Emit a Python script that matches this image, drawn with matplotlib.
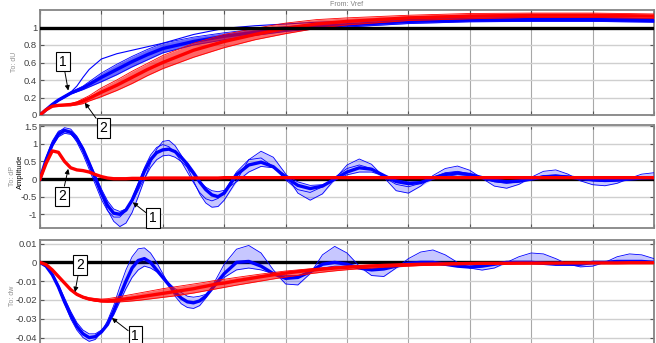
import matplotlib.pyplot as plt
import numpy as np

plt.rcParams['font.family'] = ['Liberation Sans', 'DejaVu Sans']

# time axis in grid divisions (10 divisions across the plot)
t_top = [0, 0.1, 0.2, 0.3, 0.4, 0.5, 0.6, 0.7, 0.8, 1.0, 1.25, 1.5, 1.75, 2.0,
         2.5, 3.0, 3.5, 4.0, 4.5, 5.0, 6.0, 7.0, 8.0, 9.0, 10.0]

t_osc = [0, 0.1, 0.2, 0.3, 0.4, 0.5, 0.6, 0.7, 0.8, 0.9,
         1.0, 1.1, 1.2, 1.3, 1.4, 1.5, 1.6, 1.7, 1.8, 1.9,
         2.0, 2.1, 2.2, 2.3, 2.4, 2.5, 2.6, 2.7, 2.8, 2.9,
         3.0,
         3.2, 3.4, 3.6, 3.8, 4.0, 4.2, 4.4, 4.6, 4.8, 5.0,
         5.2, 5.4, 5.6, 5.8, 6.0, 6.2, 6.4, 6.6, 6.8, 7.0,
         7.2, 7.4, 7.6, 7.8, 8.0, 8.2, 8.4, 8.6, 8.8, 9.0,
         9.2, 9.4, 9.6, 9.8, 10.0]

# --- To: dU ---
du_blue = [0, 0.06, 0.12, 0.17, 0.21, 0.25, 0.28, 0.31, 0.35, 0.43, 0.52, 0.61, 0.69,
           0.76, 0.84, 0.90, 0.945, 0.98, 1.01, 1.03, 1.07, 1.085, 1.09, 1.09, 1.08]
du_blue_hi = [0, 0.062, 0.125, 0.178, 0.22, 0.26, 0.295, 0.33, 0.38, 0.48, 0.58, 0.67, 0.75,
              0.82, 0.89, 0.94, 0.98, 1.01, 1.04, 1.06, 1.10, 1.11, 1.115, 1.115, 1.10]
du_blue_lo = [0, 0.058, 0.115, 0.162, 0.20, 0.24, 0.265, 0.29, 0.32, 0.38, 0.46, 0.55, 0.63,
              0.71, 0.80, 0.86, 0.91, 0.955, 0.985, 1.005, 1.045, 1.065, 1.07, 1.07, 1.06]
du_blue_out = [0, 0.06, 0.12, 0.17, 0.21, 0.26, 0.33, 0.43, 0.52, 0.64, 0.70, 0.74, 0.78,
               0.82, 0.92, 0.99, 1.02, 1.04, 1.06, 1.07, 1.09, 1.10, 1.11, 1.11, 1.10]
du_red = [0, 0.06, 0.10, 0.11, 0.115, 0.12, 0.135, 0.16, 0.19, 0.26, 0.34, 0.43, 0.52,
          0.60, 0.74, 0.84, 0.92, 0.99, 1.04, 1.07, 1.11, 1.13, 1.14, 1.14, 1.13]
du_red_hi = [0, 0.065, 0.105, 0.115, 0.12, 0.13, 0.15, 0.185, 0.22, 0.31, 0.40, 0.50, 0.59,
             0.68, 0.82, 0.92, 0.99, 1.05, 1.09, 1.11, 1.14, 1.16, 1.165, 1.165, 1.155]
du_red_lo = [0, 0.055, 0.095, 0.10, 0.105, 0.105, 0.115, 0.13, 0.16, 0.21, 0.28, 0.36, 0.45,
             0.53, 0.66, 0.77, 0.86, 0.93, 0.99, 1.03, 1.08, 1.10, 1.115, 1.115, 1.105]

# --- To: dP ---
dp_blue = [0, 0.55, 0.98, 1.27, 1.38, 1.33, 1.15, 0.85, 0.45, 0.03,
           -0.40, -0.75, -0.97, -1.00, -0.88, -0.60, -0.20, 0.22, 0.55, 0.75,
           0.83, 0.85, 0.78, 0.62, 0.42, 0.18, -0.08, -0.30, -0.45, -0.50,
           -0.40,
           0.12, 0.40, 0.48, 0.35, 0.05, -0.18, -0.27, -0.20, 0.0, 0.20,
           0.32, 0.28, 0.10, -0.07, -0.13, -0.10, 0.03, 0.13, 0.17, 0.13,
           0.04, -0.04, -0.08, -0.06, 0.0, 0.06, 0.08, 0.06, 0.02, -0.02,
           -0.04, -0.03, 0.0, 0.03, 0.04]
dp_blue_hi = [0, 0.57, 1.02, 1.33, 1.46, 1.42, 1.22, 0.90, 0.48, 0.02,
              -0.45, -0.88, -1.20, -1.35, -1.25, -0.95, -0.50, -0.02, 0.45, 0.85,
              1.07, 1.10, 0.95, 0.68, 0.33, -0.05, -0.42, -0.68, -0.80, -0.78,
              -0.60,
              -0.05, 0.55, 0.79, 0.62, 0.15, -0.40, -0.60, -0.42, 0.0, 0.40,
              0.57, 0.42, 0.05, -0.33, -0.40, -0.20, 0.10, 0.30, 0.37, 0.25,
              0.02, -0.20, -0.26, -0.15, 0.05, 0.22, 0.26, 0.14, -0.05, -0.16,
              -0.19, -0.12, 0.02, 0.14, 0.18]
dp_blue_lo = [0, 0.52, 0.93, 1.20, 1.30, 1.27, 1.12, 0.85, 0.50, 0.12,
              -0.28, -0.62, -0.85, -0.92, -0.85, -0.65, -0.32, 0.02, 0.33, 0.55,
              0.66, 0.68, 0.62, 0.50, 0.33, 0.12, -0.08, -0.23, -0.33, -0.36,
              -0.32,
              -0.08, 0.20, 0.36, 0.32, 0.12, -0.08, -0.18, -0.16, -0.03, 0.12,
              0.20, 0.20, 0.10, -0.02, -0.08, -0.08, 0.0, 0.08, 0.12, 0.10,
              0.04, -0.01, -0.04, -0.03, 0.01, 0.04, 0.06, 0.05, 0.02, 0.0,
              -0.01, 0.0, 0.02, 0.03, 0.04]
dp_blue_lead = [0, 0.62, 1.08, 1.36, 1.42, 1.30, 1.05, 0.70, 0.28, -0.15,
                -0.58, -0.90, -1.08, -1.08, -0.90, -0.55, -0.12, 0.32, 0.68, 0.90,
                0.98, 0.92, 0.75, 0.50, 0.20, -0.10, -0.38, -0.56, -0.62, -0.55,
                -0.35,
                0.20, 0.55, 0.60, 0.35, -0.02, -0.30, -0.38, -0.22, 0.05, 0.30,
                0.40, 0.30, 0.05, -0.15, -0.22, -0.12, 0.05, 0.18, 0.22, 0.15,
                0.02, -0.08, -0.12, -0.08, 0.02, 0.10, 0.12, 0.08, 0.0, -0.05,
                -0.07, -0.04, 0.01, 0.05, 0.06]
dp_red = [0, 0.45, 0.80, 0.76, 0.50, 0.32, 0.26, 0.24, 0.20, 0.13,
          0.07, 0.03, 0.01, 0.01, 0.01, 0.02, 0.02, 0.02, 0.03, 0.03,
          0.03, 0.03, 0.03, 0.03, 0.03, 0.03, 0.03, 0.03, 0.03, 0.03,
          0.04,
          0.04, 0.04, 0.04, 0.04, 0.04, 0.04, 0.04, 0.04, 0.04, 0.04,
          0.04, 0.04, 0.04, 0.04, 0.04, 0.04, 0.04, 0.04, 0.04, 0.04,
          0.04, 0.04, 0.04, 0.04, 0.04, 0.04, 0.04, 0.04, 0.04, 0.04,
          0.04, 0.04, 0.04, 0.04, 0.04]

# --- To: dw ---
dw_blue = [0, -0.002, -0.0065, -0.013, -0.021, -0.028, -0.034, -0.038, -0.040, -0.0395,
           -0.037, -0.033, -0.026, -0.018, -0.010, -0.003, 0.001, 0.002, 0.0, -0.004,
           -0.008, -0.012, -0.016, -0.019, -0.021, -0.0215, -0.0205, -0.018, -0.014, -0.010,
           -0.006,
           0.0, 0.0005, -0.002, -0.006, -0.0085, -0.008, -0.005, -0.001, 0.0, -0.001,
           -0.003, -0.004, -0.0035, -0.002, -0.0005, 0.0, 0.0, -0.001, -0.002, -0.0025,
           -0.002, -0.001, 0.0, 0.0, 0.0, -0.0005, -0.001, -0.001, -0.001, 0.0,
           0.0, 0.0005, 0.0005, 0.0005, 0.0]
dw_blue_hi = [0, -0.002, -0.007, -0.014, -0.022, -0.030, -0.036, -0.040, -0.042, -0.041,
              -0.037, -0.031, -0.023, -0.013, -0.004, 0.003, 0.0072, 0.0077, 0.005, 0.0,
              -0.006, -0.012, -0.018, -0.022, -0.024, -0.0245, -0.023, -0.019, -0.013, -0.007,
              -0.001,
              0.007, 0.009, 0.005, -0.004, -0.0115, -0.012, -0.006, 0.004, 0.0085, 0.005,
              -0.002, -0.007, -0.0075, -0.003, 0.002, 0.0055, 0.0066, 0.004, 0.0, -0.003,
              -0.0041, -0.003, 0.0, 0.003, 0.005, 0.0045, 0.002, -0.001, -0.0024, -0.002,
              0.0, 0.003, 0.0045, 0.004, 0.002]
dw_blue_lo = [0, -0.0018, -0.006, -0.012, -0.019, -0.026, -0.032, -0.036, -0.038, -0.038,
              -0.036, -0.033, -0.028, -0.021, -0.014, -0.008, -0.004, -0.002, -0.003, -0.005,
              -0.008, -0.011, -0.014, -0.016, -0.018, -0.0185, -0.018, -0.017, -0.014, -0.011,
              -0.008,
              -0.004, -0.003, -0.004, -0.006, -0.007, -0.007, -0.005, -0.003, -0.002, -0.002,
              -0.003, -0.0035, -0.003, -0.002, -0.0015, -0.001, -0.001, -0.0015, -0.002, -0.002,
              -0.0015, -0.001, -0.0005, 0.0, 0.0, -0.0005, -0.001, -0.001, -0.0005, 0.0,
              0.0, 0.0, 0.0005, 0.0005, 0.0]
dw_red = [0, -0.0012, -0.004, -0.0075, -0.011, -0.0145, -0.017, -0.0185, -0.0195, -0.020,
          -0.0205, -0.0205, -0.0202, -0.0198, -0.0194, -0.019, -0.0185, -0.018, -0.0175, -0.017,
          -0.0165, -0.016, -0.0155, -0.015, -0.0145, -0.014, -0.0133, -0.0127, -0.012, -0.0114,
          -0.011,
          -0.0098, -0.0087, -0.0076, -0.0066, -0.0057, -0.0049, -0.0042, -0.0036, -0.003, -0.0026,
          -0.0022, -0.0019, -0.0016, -0.0014, -0.0012, -0.001, -0.0009, -0.0008, -0.0007, -0.0006,
          -0.0005, -0.0005, -0.0005, -0.0004, -0.0004, -0.0004, -0.0004, -0.0003, -0.0003, -0.0003,
          -0.0003, -0.0003, -0.0002, -0.0002, -0.0002]
dw_red_hi = [0, -0.0012, -0.004, -0.0075, -0.011, -0.0143, -0.0166, -0.018, -0.0188, -0.0192,
             -0.0195, -0.0193, -0.0188, -0.0182, -0.0176, -0.017, -0.0164, -0.0158, -0.0152, -0.0146,
             -0.014, -0.0135, -0.013, -0.0125, -0.012, -0.0115, -0.011, -0.0105, -0.0099, -0.0094,
             -0.009,
             -0.008, -0.0071, -0.0062, -0.0054, -0.0046, -0.004, -0.0034, -0.0029, -0.0024, -0.002,
             -0.0017, -0.0014, -0.0012, -0.001, -0.0008, -0.0007, -0.0006, -0.0005, -0.0004, -0.0003,
             -0.0003, -0.0002, -0.0002, -0.0002, -0.0001, -0.0001, -0.0001, -0.0001, -0.0001, 0.0,
             0.0, 0.0, 0.0, 0.0, 0.0]
dw_red_lo = [0, -0.0012, -0.0042, -0.008, -0.0115, -0.015, -0.0175, -0.019, -0.020, -0.0207,
             -0.021, -0.0212, -0.0212, -0.021, -0.0208, -0.0205, -0.0202, -0.0198, -0.0194, -0.019,
             -0.0186, -0.0182, -0.0178, -0.0173, -0.0168, -0.0163, -0.0157, -0.0151, -0.0145, -0.0139,
             -0.0133,
             -0.0121, -0.011, -0.0099, -0.0088, -0.0078, -0.0069, -0.006, -0.0052, -0.0045, -0.0039,
             -0.0034, -0.003, -0.0026, -0.0023, -0.002, -0.0017, -0.0015, -0.0013, -0.0012, -0.0011,
             -0.001, -0.0009, -0.0008, -0.0008, -0.0007, -0.0007, -0.0006, -0.0006, -0.0006, -0.0005,
             -0.0005, -0.0005, -0.0005, -0.0004, -0.0004]

BLUE = '#0000ff'
RED = '#ff0000'
W, H = 656, 343

fig = plt.figure(figsize=(6.56, 3.43), dpi=100)


def px_axes(left, top, right, bottom):
    return fig.add_axes([left / W, 1 - bottom / H, (right - left) / W, (bottom - top) / H])


def style(ax, ylim, yticks, ylabels):
    ax.set_xlim(0, 10)
    ax.set_ylim(*ylim)
    ax.set_xticks(range(11))
    ax.set_yticks(yticks)
    ax.set_yticklabels(ylabels)
    ax.tick_params(direction='in', length=3, width=0.8, color='#555555', top=True, right=True,
                   labelbottom=False, labelsize=6.8, labelcolor='#404040', pad=2)
    ax.grid(True, axis='y', color='#cfcfcf', lw=1.0)
    ax.grid(True, axis='x', color='#a8a8a8', lw=0.8)
    ax.set_axisbelow(True)
    for s in ax.spines.values():
        s.set_color('#858585')
        s.set_linewidth(1.3)


def band(ax, t, members, core, color, z, alpha):
    members = [np.asarray(m) for m in members]
    ax.fill_between(t, np.minimum.reduce(members), np.maximum.reduce(members),
                    color=color, alpha=alpha, lw=0, zorder=z)
    for m in members:
        ax.plot(t, m, color=color, lw=0.6, zorder=z)
    ax.plot(t, core, color=color, lw=2.4, zorder=z)


def tag(ax, label, xy, xytext):
    ax.annotate(label, xy=xy, xytext=xytext, ha='center', va='center', fontsize=10,
                bbox=dict(boxstyle='square,pad=0.2', fc='white', ec='black', lw=0.8),
                arrowprops=dict(arrowstyle='-|>', color='black', lw=0.7, mutation_scale=7,
                                shrinkA=0, shrinkB=0),
                annotation_clip=False, zorder=10)


ax_top = px_axes(40, 10, 654, 115)
ax_mid = px_axes(40, 124.5, 654, 228)
ax_bot = px_axes(40, 240, 654, 350)
ax_top.set_zorder(3)
ax_mid.set_zorder(2)

# top panel
style(ax_top, (0, 1.2), [0, 0.2, 0.4, 0.6, 0.8, 1.0], ['0', '0.2', '0.4', '0.6', '0.8', '1'])
band(ax_top, t_top, [du_blue_hi, du_blue_lo], du_blue, BLUE, 3, 0.6)
ax_top.plot(t_top, du_blue_out, color=BLUE, lw=0.8, zorder=3)
band(ax_top, t_top, [du_red_hi, du_red_lo], du_red, RED, 4, 0.6)
ax_top.axhline(1, color='black', lw=2.4, zorder=5)
tag(ax_top, '1', (0.46, 0.28), (0.375, 0.61))
tag(ax_top, '2', (0.73, 0.14), (1.03, -0.15))

# middle panel
style(ax_mid, (-1.39, 1.55), [-1, -0.5, 0, 0.5, 1, 1.5], ['-1', '-0.5', '0', '0.5', '1', '1.5'])
ax_mid.axhline(0, color='black', lw=2.4, zorder=3)
band(ax_mid, t_osc, [dp_blue_hi, dp_blue_lo, dp_blue_lead], dp_blue, BLUE, 3, 0.22)
ax_mid.plot(t_osc, dp_red, color=RED, lw=2.4, zorder=5)
tag(ax_mid, '2', (0.46, 0.29), (0.36, -0.49))
tag(ax_mid, '1', (1.51, -0.66), (1.84, -1.11))

# bottom panel
style(ax_bot, (-0.0466, 0.0119), [-0.04, -0.03, -0.02, -0.01, 0, 0.01],
      ['-0.04', '-0.03', '-0.02', '-0.01', '0', '0.01'])
ax_bot.axhline(0, color='black', lw=2.4, zorder=2)
band(ax_bot, t_osc, [dw_blue_hi, dw_blue_lo], dw_blue, BLUE, 3, 0.22)
band(ax_bot, t_osc, [dw_red_hi, dw_red_lo], dw_red, RED, 4, 0.6)
tag(ax_bot, '2', (0.57, -0.0158), (0.65, -0.0014))
tag(ax_bot, '1', (1.17, -0.0296), (1.55, -0.0392))

# labels
fig.text(347 / W, 1 - 4 / H, 'From: Vref', fontsize=5, color='#808080', ha='center', va='center')
fig.text(15 / W, 1 - 62 / H, 'To: dU', fontsize=5, color='#909090', rotation=90, ha='center', va='center')
fig.text(13 / W, 1 - 176 / H, 'To: dP', fontsize=5, color='#909090', rotation=90, ha='center', va='center')
fig.text(20 / W, 0.5, 'Amplitude', fontsize=5.5, color='black', rotation=90, ha='center', va='center')
fig.text(12 / W, 1 - 296 / H, 'To: dw', fontsize=5, color='#909090', rotation=90, ha='center', va='center')

fig.savefig('out.png', dpi=100)
